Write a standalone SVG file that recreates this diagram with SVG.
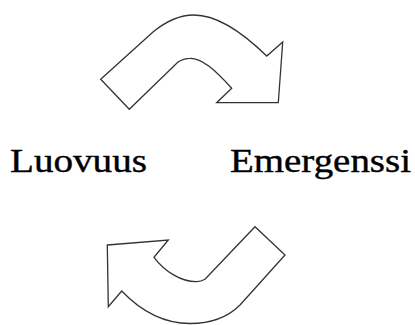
<svg xmlns="http://www.w3.org/2000/svg" width="415" height="325" viewBox="0 0 415 325">
<style>
.arrow{fill:#fff;stroke:#333;stroke-width:1.3;stroke-linejoin:miter}
.lbl{font-family:"Liberation Serif",serif;font-size:34px;fill:#000;stroke:#000;stroke-width:0.4}
</style>
<rect width="415" height="325" fill="#fff"/>
<g id="connectors">
<g id="arrow-top">
<path class="arrow" d="M100.7,79.3 L153,32 C170,18 185,15 194,15 C215,15 240,30 266.7,56 L282.7,42 L278.3,102.7 L216.7,102.7 L231.7,88.3 C215,70 202,58 190,58.3 C185,58.3 181,60 178,62 L129.3,109.3 Z"/>
</g>
<g id="arrow-bottom">
<path class="arrow" d="M107.3,245 L168.3,240 L154,257.3 C165,272 182,282 196.7,281.7 C200,281.7 203,280.5 205,279.3 L255,226.7 L285,255 L240,305 C228,317 210,323.5 190,323.5 C160,323.5 138,308 121.7,291 L108.3,306.7 Z"/>
</g>
</g>
<g id="node-luovuus">
<text class="lbl" x="10" y="171.7" textLength="137" lengthAdjust="spacingAndGlyphs">Luovuus</text>
</g>
<g id="node-emergenssi">
<text class="lbl" x="230" y="171.7" textLength="181" lengthAdjust="spacingAndGlyphs">Emergenssi</text>
</g>
</svg>
